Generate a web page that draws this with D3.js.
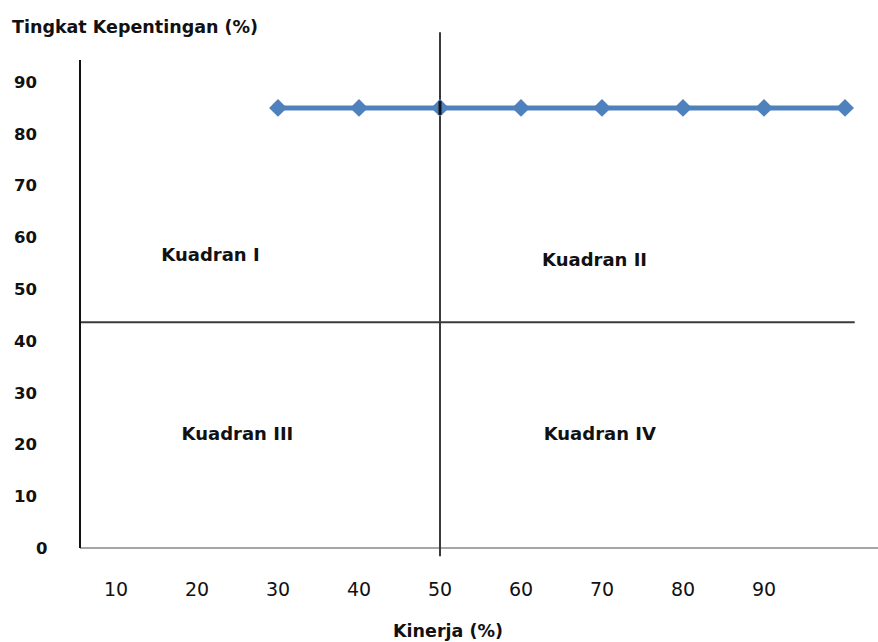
<!DOCTYPE html>
<html>
<head>
<meta charset="utf-8">
<script src="https://cdn.jsdelivr.net/npm/d3@7"></script>
<style>
  html, body { margin: 0; padding: 0; background: #fff; }
  svg { display: block; }
</style>
</head>
<body>
<svg id="chart" width="878" height="642"></svg>
<script>
// ---- data ----
const kinerja = [30, 40, 50, 60, 70, 80, 90, 100];
const kepentingan = [85, 85, 85, 85, 85, 85, 85, 85];
const xTickValues = [10, 20, 30, 40, 50, 60, 70, 80, 90];
const yTickValues = [0, 10, 20, 30, 40, 50, 60, 70, 80, 90];
const quadrantX = 50;      // vertical divider (Kinerja)
const quadrantY = 43.6;    // horizontal divider (Kepentingan)
const quadrantLabels = ["Kuadran I", "Kuadran II", "Kuadran III", "Kuadran IV"];
const yTitle = "Tingkat Kepentingan (%)";
const xTitle = "Kinerja (%)";

// ---- scales ----
const svg = d3.select("#chart");
const x = d3.scaleLinear().domain([0, 100]).range([35, 845]);
const y = d3.scaleLinear().domain([0, 90]).range([548, 82]);

const xMin = x.invert(80), xMax = x.invert(878);
const yTop = y.invert(60);

// x axis (gray)
svg.append("line")
  .attr("x1", x(xMin)).attr("x2", x(xMax))
  .attr("y1", y(0)).attr("y2", y(0))
  .attr("stroke", "#a6a6a6").attr("stroke-width", 2);

// horizontal quadrant divider
svg.append("line")
  .attr("x1", x(xMin)).attr("x2", x(101.2))
  .attr("y1", y(quadrantY)).attr("y2", y(quadrantY))
  .attr("stroke", "#3a3a3a").attr("stroke-width", 2);

// vertical quadrant divider
svg.append("line")
  .attr("x1", x(quadrantX)).attr("x2", x(quadrantX))
  .attr("y1", y(99.6)).attr("y2", y(-1.6))
  .attr("stroke", "#3a3a3a").attr("stroke-width", 2);

// y axis (black)
svg.append("line")
  .attr("x1", x(xMin)).attr("x2", x(xMin))
  .attr("y1", y(yTop)).attr("y2", y(0))
  .attr("stroke", "#111").attr("stroke-width", 2);

// y tick labels
svg.append("g").selectAll("text")
  .data(yTickValues).join("text")
  .attr("x", d => d === 0 ? 36 : 14)
  .attr("y", d => y(d))
  .attr("dy", "0.36em")
  .attr("font-family", "'DejaVu Sans', sans-serif")
  .attr("font-weight", "bold")
  .attr("font-size", 16.5)
  .attr("fill", "#111")
  .text(d => d);

// x tick labels
svg.append("g").selectAll("text")
  .data(xTickValues).join("text")
  .attr("x", d => x(d))
  .attr("y", 596)
  .attr("text-anchor", "middle")
  .attr("font-family", "'DejaVu Sans', sans-serif")
  .attr("font-size", 19)
  .attr("fill", "#111")
  .text(d => d);

// titles
svg.append("text")
  .attr("x", 12).attr("y", 33)
  .attr("font-family", "'DejaVu Sans', sans-serif")
  .attr("font-weight", "bold").attr("font-size", 17.5)
  .attr("fill", "#111")
  .text(yTitle);

svg.append("text")
  .attr("x", 393).attr("y", 637)
  .attr("font-family", "'DejaVu Sans', sans-serif")
  .attr("font-weight", "bold").attr("font-size", 17.5)
  .attr("fill", "#111")
  .text(xTitle);

// quadrant labels
const qPos = [
  {kx: 15.6, ky: 55.4},
  {kx: 62.6, ky: 54.5},
  {kx: 18.1, ky: 20.8},
  {kx: 62.8, ky: 20.8}
];
svg.append("g").selectAll("text")
  .data(quadrantLabels).join("text")
  .attr("x", (d, i) => x(qPos[i].kx))
  .attr("y", (d, i) => y(qPos[i].ky))
  .attr("font-family", "'DejaVu Sans', sans-serif")
  .attr("font-weight", "bold").attr("font-size", 18)
  .attr("fill", "#111")
  .text(d => d);

// series
const pts = kinerja.map((k, i) => [k, kepentingan[i]]);
svg.append("path")
  .datum(pts)
  .attr("fill", "none")
  .attr("stroke", "#4f81bd")
  .attr("stroke-width", 5)
  .attr("d", d3.line().x(d => x(d[0])).y(d => y(d[1])));

svg.append("g").selectAll("path")
  .data(pts).join("path")
  .attr("transform", d => `translate(${x(d[0])},${y(d[1])}) rotate(45)`)
  .attr("d", d3.symbol().type(d3.symbolSquare).size(160))
  .attr("fill", "#4f81bd");

// divider segment drawn over the marker at x=50 (as in reference)
svg.append("line")
  .attr("x1", x(quadrantX)).attr("x2", x(quadrantX))
  .attr("y1", y(kepentingan[2]) - 7).attr("y2", y(kepentingan[2]) + 7)
  .attr("stroke", "#111").attr("stroke-width", 3);
</script>
</body>
</html>
